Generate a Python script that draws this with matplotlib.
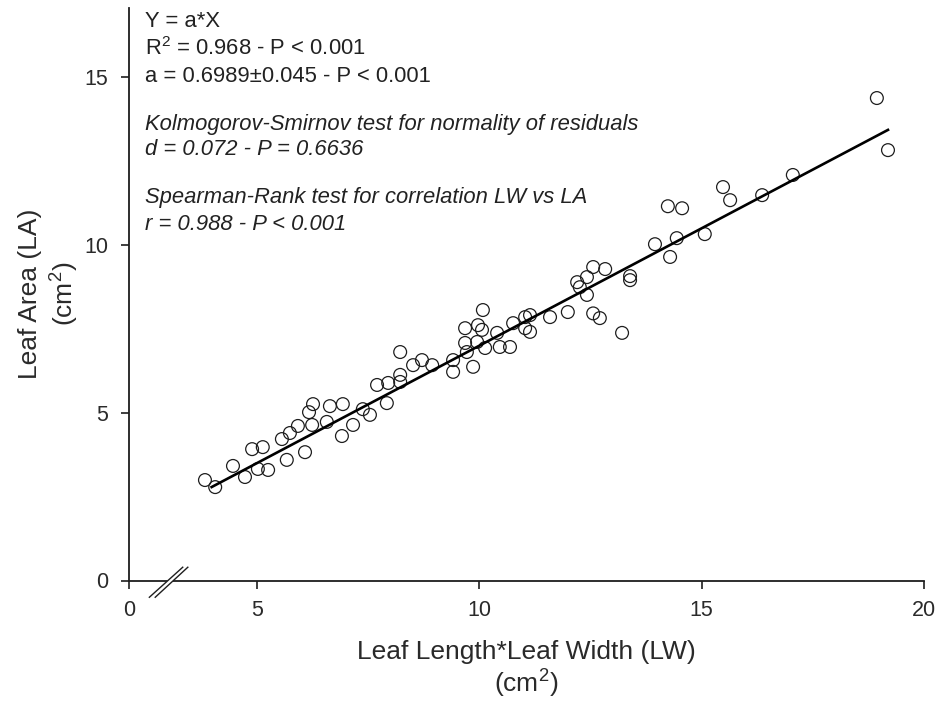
#!/usr/bin/env python3
"""
Leaf area vs leaf length*width - linear fit through origin
"""

import matplotlib.pyplot as plt
import numpy as np
from matplotlib.patches import Polygon
from matplotlib.lines import Line2D

plt.rcParams['font.family'] = ['Liberation Sans', 'DejaVu Sans']
plt.rcParams['mathtext.fontset'] = 'custom'
plt.rcParams['mathtext.rm'] = 'Liberation Sans'
plt.rcParams['mathtext.it'] = 'Liberation Sans:italic'

# ============================================================================
# DATA
# ============================================================================
lw = [3.83, 4.06, 4.46, 4.73, 4.89, 5.13, 5.25, 5.02, 5.56, 5.67,
      5.92, 6.24, 6.26, 6.17, 6.08, 5.74, 6.64, 6.93, 6.57, 6.91,
      7.16, 7.38, 7.54, 7.92, 7.70, 7.95, 8.22,
      10.08, 9.68, 9.97, 10.06, 9.68, 9.95, 9.72, 9.41, 9.41, 9.86,
      10.13, 10.40, 10.46, 10.69, 10.76, 11.03, 11.14, 11.03, 11.14, 11.59,
      11.99, 12.56, 12.71, 13.21, 12.26, 12.42, 8.51, 8.71, 8.94, 8.22,
      8.22, 12.20, 13.39,
      18.94, 19.19, 17.05, 16.36, 15.48, 15.64, 14.24, 14.56, 15.07, 14.44,
      13.95, 14.29, 13.39, 12.83, 12.56, 12.42]
la = [2.99, 2.78, 3.41, 3.08, 3.91, 3.97, 3.29, 3.32, 4.21, 3.59,
      4.60, 4.63, 5.25, 5.01, 3.82, 4.39, 5.19, 5.25, 4.72, 4.30,
      4.63, 5.10, 4.93, 5.28, 5.82, 5.88, 5.91,
      8.05, 7.51, 7.60, 7.46, 7.07, 7.10, 6.80, 6.56, 6.21, 6.36,
      6.92, 7.37, 6.95, 6.95, 7.66, 7.84, 7.90, 7.51, 7.40, 7.84,
      7.99, 7.95, 7.81, 7.37, 8.73, 8.50, 6.41, 6.56, 6.41, 6.80,
      6.12, 8.88, 8.94,
      14.36, 12.81, 12.07, 11.47, 11.71, 11.32, 11.14, 11.08, 10.31, 10.19,
      10.01, 9.63, 9.06, 9.27, 9.33, 9.03]

slope_a = 0.6989

x_ticks = [5, 10, 15, 20]
y_ticks = [0, 5, 10, 15]

stats_lines = [
    ("Y = a*X", 'normal'),
    ("R$^{2}$ = 0.968 - P < 0.001", 'normal'),
    ("a = 0.6989\u00b10.045 - P < 0.001", 'normal'),
    ("Kolmogorov-Smirnov test for normality of residuals", 'italic'),
    ("d = 0.072 - P = 0.6636", 'italic'),
    ("Spearman-Rank test for correlation LW vs LA", 'italic'),
    ("r = 0.988 - P < 0.001", 'italic'),
]
stats_baseline_px = [27, 55, 82, 130, 155, 203, 230]

# ============================================================================
# PLOT
# ============================================================================
W, H = 939, 701
fig = plt.figure(figsize=(W / 100, H / 100), dpi=100)
ax = fig.add_axes([129 / W, (H - 580.5) / H, (924 - 129) / W, (580.5 - 8) / H])

ink = '#1e1e1e'

# x axis is broken: "0" sits at the left end, linear scale from there on
x_left = 5 - (257 - 129) / 44.47
ax.set_xlim(x_left, 20)
ax.set_ylim(0, 17.04)

ax.scatter(lw, la, s=85, facecolors='none', edgecolors=ink, linewidths=0.9, zorder=2)

xfit = np.array([min(lw) + 0.15, max(lw)])
ax.plot(xfit, slope_a * xfit, color='black', linewidth=1.9, zorder=3)

ax.set_xticks([x_left] + x_ticks)
ax.set_xticklabels(['0'] + [str(t) for t in x_ticks])
ax.set_yticks(y_ticks)

for s in ['top', 'right']:
    ax.spines[s].set_visible(False)
for s in ['left', 'bottom']:
    ax.spines[s].set_linewidth(1.3)
    ax.spines[s].set_color(ink)

ax.tick_params(axis='both', direction='out', length=6, width=1.2, colors=ink,
               labelsize=15.5, labelcolor='#2a2a2a')
ax.tick_params(axis='x', pad=8)
ax.tick_params(axis='y', pad=9)

ax.set_xlabel('Leaf Length*Leaf Width (LW)\n(cm$^{2}$)', fontsize=19,
              color='#2a2a2a', labelpad=14, linespacing=1.15)
ax.set_ylabel('Leaf Area (LA)\n(cm$^{2}$)', fontsize=19,
              color='#2a2a2a', labelpad=2, linespacing=1.3)

# axis break marks
brk_x = [[0.0256, 0.0676], [0.0330, 0.0740]]
brk_y = [-0.0293, 0.0232]
gap = Polygon([[brk_x[0][0], brk_y[0]], [brk_x[0][1], brk_y[1]],
               [brk_x[1][1], brk_y[1]], [brk_x[1][0], brk_y[0]]],
              closed=True, transform=ax.transAxes, facecolor='white',
              edgecolor='none', clip_on=False, zorder=4)
ax.add_patch(gap)
for bx in brk_x:
    ax.add_line(Line2D(bx, brk_y, transform=ax.transAxes, color=ink,
                       linewidth=1.0, clip_on=False, zorder=5))

# statistics text block
for (txt, style), ypx in zip(stats_lines, stats_baseline_px):
    fig.text(145 / W, 1 - ypx / H, txt, fontsize=15.8, style=style,
             color='#222222', va='baseline', ha='left')

plt.savefig('out.png', dpi=100)
plt.close()
